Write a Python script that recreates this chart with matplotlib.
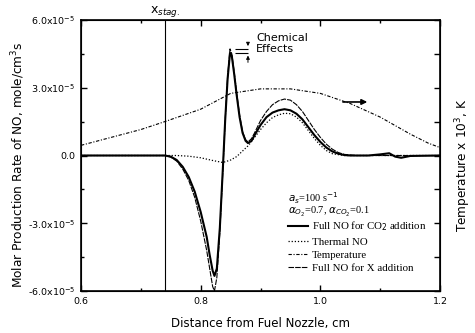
import numpy as np
import matplotlib
matplotlib.use('Agg')
import matplotlib.pyplot as plt
from matplotlib.ticker import MultipleLocator, FuncFormatter

# NO production rates in units of 1e-5 mole/cm^3 s
x_co2 = [0.60, 0.70, 0.74, 0.75, 0.76, 0.77, 0.78, 0.79, 0.80, 0.81, 0.815, 0.82,
         0.823, 0.827, 0.832, 0.837, 0.841, 0.845, 0.849, 0.852, 0.856, 0.86,
         0.865, 0.87, 0.875, 0.879, 0.885, 0.89, 0.90, 0.91, 0.92, 0.93, 0.94,
         0.95, 0.96, 0.97, 0.98, 0.99, 1.00, 1.01, 1.02, 1.03, 1.04, 1.05, 1.08,
         1.10, 1.115, 1.125, 1.135, 1.15, 1.20]
no_co2 = [0.0, 0.0, 0.0, -0.05, -0.2, -0.5, -0.95, -1.6, -2.5, -3.6, -4.4, -5.1,
          -5.33, -5.0, -3.2, -0.6, 1.6, 3.4, 4.55, 4.4, 3.6, 2.7,
          1.7, 1.0, 0.65, 0.55, 0.65, 0.9, 1.35, 1.7, 1.9, 2.0, 2.05,
          2.0, 1.85, 1.6, 1.25, 0.9, 0.6, 0.35, 0.18, 0.08, 0.02, 0.0, 0.0,
          0.05, 0.1, -0.05, -0.1, -0.02, 0.0]

x_x = [0.60, 0.70, 0.74, 0.75, 0.76, 0.77, 0.78, 0.79, 0.80, 0.81, 0.815, 0.82,
       0.823, 0.827, 0.832, 0.837, 0.841, 0.845, 0.849, 0.852, 0.856, 0.86,
       0.865, 0.87, 0.875, 0.879, 0.885, 0.89, 0.90, 0.91, 0.92, 0.93, 0.94,
       0.95, 0.96, 0.97, 0.98, 0.99, 1.00, 1.01, 1.02, 1.03, 1.04, 1.06, 1.20]
no_x = [0.0, 0.0, 0.0, -0.07, -0.25, -0.6, -1.1, -1.85, -2.9, -4.2, -5.0, -5.8,
        -6.0, -5.4, -3.4, -0.7, 1.6, 3.5, 4.72, 4.5, 3.7, 2.8,
        1.8, 1.05, 0.7, 0.6, 0.75, 1.0, 1.55, 1.95, 2.25, 2.42, 2.5,
        2.45, 2.25, 1.95, 1.55, 1.15, 0.8, 0.5, 0.28, 0.13, 0.05, 0.0, 0.0]

x_th = [0.60, 0.70, 0.76, 0.78, 0.80, 0.82, 0.837, 0.85, 0.86, 0.87, 0.88, 0.89,
        0.90, 0.91, 0.92, 0.93, 0.94, 0.95, 0.96, 0.97, 0.98, 0.99, 1.00, 1.01,
        1.02, 1.04, 1.20]
no_th = [0.0, 0.0, 0.0, -0.03, -0.1, -0.22, -0.31, -0.2, -0.05, 0.2, 0.45, 0.8,
         1.15, 1.45, 1.68, 1.8, 1.87, 1.85, 1.7, 1.45, 1.1, 0.75, 0.45, 0.22,
         0.08, 0.0, 0.0]

# temperature, 1e3 K
x_t = [0.60, 0.65, 0.70, 0.74, 0.80, 0.85, 0.90, 0.95, 1.00, 1.05, 1.10, 1.13,
       1.15, 1.18, 1.20]
temp = [1.29, 1.36, 1.43, 1.50, 1.61, 1.75, 1.79, 1.79, 1.75, 1.66, 1.54, 1.45,
        1.39, 1.31, 1.27]

x_stag = 0.74
scale = 1e-5

fig = plt.figure(figsize=(4.75, 3.33), dpi=100)
ax = fig.add_axes([0.1705, 0.126, 0.756, 0.814])

ax.plot(x_co2, np.array(no_co2) * scale, color='k', lw=1.5,
        label='Full NO for CO$_2$ addition')
ax.plot(x_th, np.array(no_th) * scale, color='k', lw=0.9, linestyle=(0, (1, 1.5)),
        label='Thermal NO')
ax.plot([], [], color='k', lw=0.8, linestyle=(0, (3, 1.5, 1, 1.5)),
        label='Temperature')
ax.plot(x_x, np.array(no_x) * scale, color='k', lw=0.8, linestyle=(0, (5, 1)),
        label='Full NO for X addition')
ax.axvline(x_stag, color='k', lw=0.8)

ax.set_xlim(0.6, 1.2)
ax.set_ylim(-6e-5, 6e-5)
ax.xaxis.set_major_locator(MultipleLocator(0.2))
ax.xaxis.set_minor_locator(MultipleLocator(0.1))
ax.yaxis.set_major_locator(MultipleLocator(3e-5))
ax.yaxis.set_minor_locator(MultipleLocator(1.5e-5))
ax.xaxis.set_major_formatter(FuncFormatter(lambda v, p: '%.1f' % v))


def sci(v, p):
    if abs(v) < 1e-12:
        return '0.0'
    return '%.1fx10$^{-5}$' % (v / scale)


ax.yaxis.set_major_formatter(FuncFormatter(sci))
ax.tick_params(which='both', direction='in', top=True, labelsize=6.8)
ax.tick_params(which='major', length=4, width=1, pad=4)
ax.tick_params(which='minor', length=2.5, width=1)
for s in ax.spines.values():
    s.set_linewidth(1.2)

ax.set_xlabel('Distance from Fuel Nozzle, cm', fontsize=8.5)
ax.xaxis.set_label_coords(0.5, -0.095)
ax.set_ylabel('Molar Production Rate of NO, mole/cm$^3$s', fontsize=8.7)
ax.yaxis.set_label_coords(-0.15, 0.465)

ax.text(x_stag, 6.05e-5, 'x$_{stag.}$', ha='center', va='bottom', fontsize=9)

# chemical effects marker between the two first peaks
p1 = max(no_co2) * scale
p2 = max(no_x) * scale
ax.hlines([p1, p2], 0.857, 0.879, color='k', lw=0.8)
ax.annotate('', xy=(0.879, p2), xytext=(0.879, 5.1e-5),
            arrowprops=dict(arrowstyle='-|>', color='k', lw=0.7, mutation_scale=5))
ax.annotate('', xy=(0.879, p1), xytext=(0.879, 4.0e-5),
            arrowprops=dict(arrowstyle='-|>', color='k', lw=0.7, mutation_scale=5))
ax.text(0.893, 4.95e-5, 'Chemical\nEffects', fontsize=8, va='center',
        linespacing=1.15)

ax2 = ax.twinx()
ax2.plot(x_t, temp, color='k', lw=0.8, linestyle=(0, (3, 1.5, 1, 1.5)))
ax2.set_ylim(0, 2.4)
ax2.yaxis.set_major_locator(MultipleLocator(0.3))
ax2.tick_params(direction='in', length=4, width=1, labelright=False)
ax2.set_ylabel('Temperature x 10$^3$, K', fontsize=8.7, rotation=90)
ax2.yaxis.set_label_coords(1.036, 0.465)
ax2.annotate('', xy=(1.083, 1.674), xytext=(1.033, 1.674),
             arrowprops=dict(arrowstyle='-|>', color='k', lw=1.2, mutation_scale=8))

ax.text(0.946, -1.88e-5, '$a_s$=100 s$^{-1}$', fontsize=7.5, va='center',
        family='Liberation Serif')
ax.text(0.946, -2.5e-5, r'$\alpha_{O_2}$=0.7, $\alpha_{CO_2}$=0.1', fontsize=7.5,
        va='center', family='Liberation Serif')
ax.legend(loc='lower left', bbox_to_anchor=(0.555, 0.04), frameon=False,
          prop={'family': 'Liberation Serif', 'size': 7.8}, handlelength=1.9,
          handletextpad=0.3, labelspacing=0.32, borderpad=0.2)

fig.savefig('out.png', dpi=100)
